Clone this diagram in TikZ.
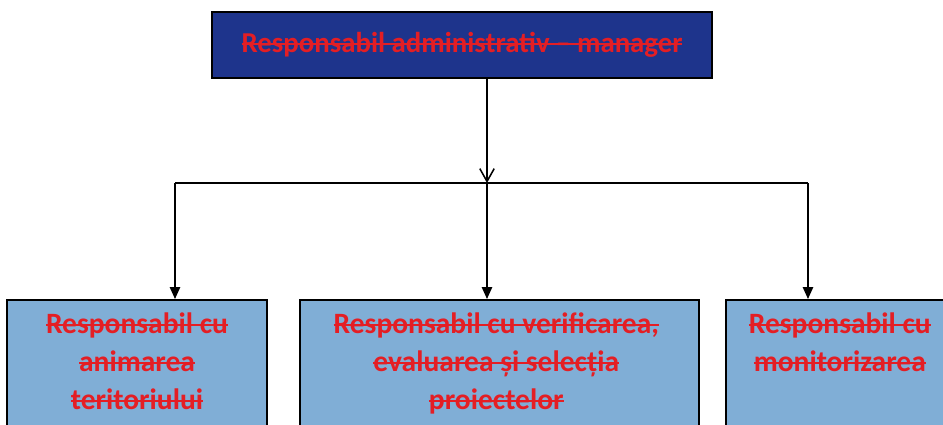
\documentclass[tikz,border=0pt]{standalone}
\usepackage{fontspec}
\setsansfont{Carlito}
\usetikzlibrary{arrows.meta}

\definecolor{chiefblue}{RGB}{30,52,140}
\definecolor{staffblue}{RGB}{128,174,214}
\definecolor{inkred}{RGB}{228,30,36}

\newsavebox{\struckbox}
\newcommand{\struck}[1]{\sbox{\struckbox}{#1}\rlap{\rule[0.26em]{\wd\struckbox}{0.07em}}\usebox{\struckbox}}

\begin{document}
\begin{tikzpicture}[
        chief/.style={draw=black, line width=1.4pt, fill=chiefblue, minimum width=12.5cm, minimum height=1.65cm},
        staff/.style={draw=black, line width=1.4pt, fill=staffblue, anchor=north, minimum height=4cm},
        words/.style={text=inkred, font=\sffamily\bfseries\fontsize{21}{27}\selectfont, align=center},
        link/.style={line width=1.1pt, black}
    ]
    \useasboundingbox (0, 0) rectangle (23.575, -10.625);

    \node[chief] (top) at (11.55, -1.125) {};
    \node[words, font=\sffamily\bfseries\fontsize{20.5}{27}\selectfont] (toptext) at (top.center) {\struck{Responsabil administrativ -- manager}};

    \node[staff, minimum width=6.5cm] (left) at (3.425, -7.475) {};
    \node[staff, minimum width=9.975cm] (middle) at (12.4875, -7.475) {};
    \node[staff, minimum width=5.85cm] (right) at (21.075, -7.475) {};

    \node[words, anchor=north] (lefttext) at ([yshift=-0.22cm] left.north) {\struck{Responsabil cu}\\ \struck{animarea}\\ \struck{teritoriului}};
    \node[words, anchor=north] (middletext) at ([xshift=-0.08cm, yshift=-0.22cm] middle.north) {\struck{Responsabil cu verificarea,}\\ \struck{evaluarea  și selecția}\\ \struck{proiectelor}};
    \node[words, anchor=north] (righttext) at ([xshift=-0.08cm, yshift=-0.22cm] right.north) {\struck{Responsabil cu}\\ \struck{monitorizarea}};

    %%%%%%%%%%%%%%%%%%%%%
    % connectors
    %%%%%%%%%%%%%%%%%%%%%
    \coordinate (hub) at (12.175, -4.575);
    \coordinate (westend) at (4.375, -4.575);
    \coordinate (eastend) at (20.2, -4.575);

    \draw[link, -{Straight Barb[length=0.32cm, width=0.36cm]}] (hub |- top.south) -- (hub);
    \draw[link] (westend) -- (eastend);
    \draw[link, -{Triangle[length=0.3cm, width=0.26cm]}] (westend) -- (westend |- left.north);
    \draw[link, -{Triangle[length=0.3cm, width=0.26cm]}] (hub) -- (hub |- middle.north);
    \draw[link, -{Triangle[length=0.3cm, width=0.26cm]}] (eastend) -- (eastend |- right.north);
\end{tikzpicture}
\end{document}
